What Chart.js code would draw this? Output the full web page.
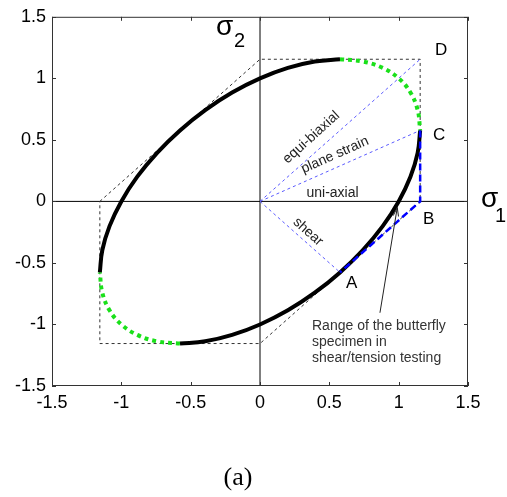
<!DOCTYPE html>
<html>
<head>
<meta charset="utf-8">
<script src="https://cdn.jsdelivr.net/npm/chart.js@4.4.1/dist/chart.umd.min.js"></script>
<style>
  html, body { margin: 0; padding: 0; background: #fff; }
  #wrap { position: relative; width: 507px; height: 497px; }
  #caption {
    position: absolute; left: 0; width: 476px; top: 462px;
    text-align: center; font: 26px 'Liberation Serif', 'Times New Roman', serif; color: #000;
  }
</style>
</head>
<body>
<div id="wrap">
  <canvas id="locus" width="507" height="497"></canvas>
  <div id="caption">(a)</div>
</div>
<script>
// von Mises locus, solid parts
const lowerArcX = [1.155, 1.137, 1.085, 1.0, 0.885, 0.742, 0.577, 0.395, 0.201, 0.0, -0.201, -0.395, -0.577];
const lowerArcY = [0.577, 0.395, 0.201, 0.0, -0.201, -0.395, -0.577, -0.742, -0.885, -1.0, -1.085, -1.137, -1.155];
const upperArcX = [-1.155, -1.137, -1.085, -1.0, -0.885, -0.742, -0.577, -0.395, -0.201, 0.0, 0.201, 0.395, 0.577];
const upperArcY = [-0.577, -0.395, -0.201, 0.0, 0.201, 0.395, 0.577, 0.742, 0.885, 1.0, 1.085, 1.137, 1.155];

// von Mises locus, dotted (biaxial) parts
const topDotsX = [0.577, 0.742, 0.885, 1.0, 1.085, 1.137, 1.155];
const topDotsY = [1.155, 1.137, 1.085, 1.0, 0.885, 0.742, 0.577];
const bottomDotsX = [-0.577, -0.742, -0.885, -1.0, -1.085, -1.137, -1.155];
const bottomDotsY = [-1.155, -1.137, -1.085, -1.0, -0.885, -0.742, -0.577];

// Tresca hexagon
const trescaX = [-1.155, 0, 1.155, 1.155, 0, -1.155, -1.155];
const trescaY = [0, 1.155, 1.155, 0, -1.155, -1.155, 0];

// load paths from the origin: equi-biaxial (D), plane strain (C), shear (A)
const pathEndX = [1.155, 1.155, 0.577];
const pathEndY = [1.155, 0.577, -0.577];

// butterfly specimen range C -> B -> A
const rangeX = [1.155, 1.155, 0.577];
const rangeY = [0.577, 0, -0.577];

// coordinate axes
const axisSpan = [-1.5, 1.5];

// point letters
const letterNames = ['D', 'C', 'B', 'A'];
const letterX = [1.262, 1.248, 1.175, 0.62];
const letterY = [1.225, 0.538, -0.146, -0.663];

// path labels
const pathNames = ['equi-biaxial', 'plane strain', 'uni-axial', 'shear'];
const pathLabelX = [0.37, 0.54, 0.523, 0.346];
const pathLabelY = [0.52, 0.376, 0.069, -0.247];
const pathLabelAngle = [-42, -24, 0, 42];

const noteLines = ['Range of the butterfly', 'specimen in', 'shear/tension testing'];
const noteX = 0.375;
const noteY = [-1.015, -1.144, -1.274];
const arrowX = [0.865, 0.99];
const arrowY = [-0.905, -0.05];

const tickValues = [-1.5, -1, -0.5, 0, 0.5, 1, 1.5];

function pts(xs, ys) {
    return xs.map((x, i) => ({x: x, y: ys[i]}));
}

const pathData = pathEndX.map((x, i) => [{x: 0, y: 0}, {x: x, y: pathEndY[i]}]);

const datasets = [
    {data: pts(rangeX, rangeY), borderColor: '#0000ff', borderWidth: 2.5, borderDash: [7, 4], order: 1},
    {data: pts(topDotsX, topDotsY), borderColor: '#1ae01a', borderWidth: 4, borderDash: [4, 4], tension: 0.4, order: 2},
    {data: pts(bottomDotsX, bottomDotsY), borderColor: '#1ae01a', borderWidth: 4, borderDash: [4, 4], tension: 0.4, order: 2},
    {data: pts(lowerArcX, lowerArcY), borderColor: '#000', borderWidth: 4, tension: 0.4, order: 3},
    {data: pts(upperArcX, upperArcY), borderColor: '#000', borderWidth: 4, tension: 0.4, order: 3},
    {data: pathData[0], borderColor: '#5a5aff', borderWidth: 1, borderDash: [3, 3], order: 4},
    {data: pathData[1], borderColor: '#5a5aff', borderWidth: 1, borderDash: [3, 3], order: 4},
    {data: pathData[2], borderColor: '#5a5aff', borderWidth: 1, borderDash: [3, 3], order: 4},
    {data: pts(trescaX, trescaY), borderColor: '#333', borderWidth: 1, borderDash: [3, 3], order: 5},
    {data: pts(axisSpan, [0, 0]), borderColor: '#000', borderWidth: 1, order: 6},
    {data: pts([0, 0], axisSpan), borderColor: '#000', borderWidth: 1, order: 6}
];

function drawText(ctx, txt, x, y, angle, font, color, align) {
    ctx.save();
    ctx.translate(x, y);
    ctx.rotate(angle * Math.PI / 180);
    ctx.font = font;
    ctx.fillStyle = color;
    ctx.textAlign = align || 'center';
    ctx.textBaseline = 'middle';
    ctx.fillText(txt, 0, 0);
    ctx.restore();
}

// box, inward ticks and annotations
const decorations = {
    id: 'decorations',
    afterDatasetsDraw(chart) {
        const ctx = chart.ctx;
        const a = chart.chartArea;
        const sx = chart.scales.x, sy = chart.scales.y;
        const px = v => sx.getPixelForValue(v);
        const py = v => sy.getPixelForValue(v);

        ctx.save();
        ctx.strokeStyle = '#333';
        ctx.lineWidth = 1;
        ctx.strokeRect(a.left + 0.5, a.top + 0.5, a.right - a.left - 1, a.bottom - a.top - 1);
        ctx.beginPath();
        tickValues.forEach(v => {
            const x = Math.round(px(v)) + 0.5;
            ctx.moveTo(x, a.bottom); ctx.lineTo(x, a.bottom - 4);
            ctx.moveTo(x, a.top); ctx.lineTo(x, a.top + 4);
            const y = Math.round(py(v)) + 0.5;
            ctx.moveTo(a.left, y); ctx.lineTo(a.left + 4, y);
            ctx.moveTo(a.right, y); ctx.lineTo(a.right - 4, y);
        });
        ctx.stroke();

        // arrow to the butterfly range
        const x0 = px(arrowX[0]), y0 = py(arrowY[0]);
        const x1 = px(arrowX[1]), y1 = py(arrowY[1]);
        const ang = Math.atan2(y1 - y0, x1 - x0);
        ctx.strokeStyle = '#222';
        ctx.beginPath();
        ctx.moveTo(x0, y0); ctx.lineTo(x1, y1);
        ctx.moveTo(x1 - 9 * Math.cos(ang - 0.3), y1 - 9 * Math.sin(ang - 0.3));
        ctx.lineTo(x1, y1);
        ctx.lineTo(x1 - 9 * Math.cos(ang + 0.3), y1 - 9 * Math.sin(ang + 0.3));
        ctx.stroke();
        ctx.restore();

        letterNames.forEach((t, i) => {
            drawText(ctx, t, px(letterX[i]), py(letterY[i]), 0, "17px 'Liberation Sans', Arial", '#000', 'left');
        });
        pathNames.forEach((t, i) => {
            drawText(ctx, t, px(pathLabelX[i]), py(pathLabelY[i]), pathLabelAngle[i], "14px 'Liberation Sans', Arial", '#222');
        });
        noteLines.forEach((t, i) => {
            drawText(ctx, t, px(noteX), py(noteY[i]), 0, "14px 'Liberation Sans', Arial", '#333', 'left');
        });

        // axis titles sigma_1, sigma_2
        ctx.save();
        ctx.fillStyle = '#000';
        ctx.textAlign = 'left';
        ctx.textBaseline = 'alphabetic';
        ctx.font = "28px 'Liberation Sans', Arial";
        ctx.fillText('σ', 216, 35);
        ctx.fillText('σ', 481, 207);
        ctx.font = "20px 'Liberation Sans', Arial";
        ctx.fillText('2', 234, 47);
        ctx.fillText('1', 495, 222);
        ctx.restore();
    }
};

Chart.defaults.font.family = "'Liberation Sans', Arial, sans-serif";

const tickLabel = v => String(v);

new Chart(document.getElementById('locus'), {
    type: 'scatter',
    data: {datasets: datasets},
    options: {
        responsive: false,
        animation: false,
        showLine: true,
        layout: {padding: {left: 0, top: 15, right: 39, bottom: 0}},
        elements: {point: {radius: 0}, line: {fill: false, borderCapStyle: 'butt'}},
        plugins: {legend: {display: false}, tooltip: {enabled: false}},
        scales: {
            x: {
                type: 'linear', min: -1.5, max: 1.5,
                afterFit: s => { s.height = 111; },
                ticks: {stepSize: 0.5, color: '#000', font: {size: 18}, padding: 6, maxRotation: 0, callback: tickLabel},
                grid: {display: false, drawTicks: false},
                border: {display: false}
            },
            y: {
                type: 'linear', min: -1.5, max: 1.5,
                afterFit: s => { s.width = 52; },
                ticks: {stepSize: 0.5, color: '#000', font: {size: 18}, padding: 6, callback: tickLabel},
                grid: {display: false, drawTicks: false},
                border: {display: false}
            }
        }
    },
    plugins: [decorations]
});
</script>
</body>
</html>
